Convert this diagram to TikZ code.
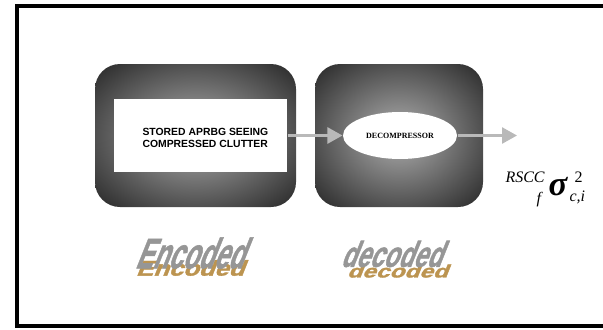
\documentclass[tikz,border=0pt]{standalone}
\usepackage{fontspec}
\setmainfont{Liberation Sans}
\newfontfamily\timesfont{Liberation Serif}
\newfontfamily\artfont[FakeBold=1.6]{Liberation Sans Bold}
\usetikzlibrary{shapes}
\usetikzlibrary{positioning}
\usetikzlibrary{arrows.meta}
\definecolor{panelout}{RGB}{52,52,52}
\definecolor{panelin}{RGB}{145,145,145}
\definecolor{arrowgray}{RGB}{185,185,185}
\definecolor{wordgray}{RGB}{150,150,150}
\definecolor{wordgold}{RGB}{188,148,80}
\pgfdeclareradialshading{panelglow}{\pgfpoint{0bp}{0bp}}{color(0bp)=(panelin); color(8bp)=(panelin); color(32bp)=(panelout); color(50bp)=(panelout)}
\tikzset{
    panel/.style = {rectangle, rounded corners=18.75pt, inner sep=0pt, outer sep=0pt, shading=panelglow, minimum height=107.25pt},
    store/.style = {rectangle, fill=white, inner sep=0pt, minimum width=129.75pt, minimum height=54.75pt},
    decomp/.style = {ellipse, fill=white, inner sep=0pt, minimum width=85.5pt, minimum height=35.25pt, font=\timesfont\bfseries\fontsize{6}{7}\selectfont},
    edgeg/.style = {-{Triangle[length=11.25pt,width=12pt]}, line width=2pt, arrowgray},
    wordart/.style = {inner sep=0pt, text=wordgray, transform shape, xslant=0.4},
    wordshadow/.style = {inner sep=0pt, text=wordgold, transform shape, xslant=0.4, yscale=0.5},
    sym/.style = {inner sep=0pt, anchor=base west, font=\timesfont\itshape\fontsize{12}{12}\selectfont}
}

\begin{document}
\begin{tikzpicture}[x=0.75pt, y=-0.75pt, thick]
  \useasboundingbox (0,0) rectangle (603,329);
  \draw[line width=3pt] (603,6) -- (17,6) -- (17,325.5) -- (603,325.5);
  % the two panels
  \node[panel, minimum width=150.75pt] (encpanel) at (195.5,135.5) {};
  \node[panel, minimum width=126pt] (decpanel) at (399,135.5) {};
  \node[store] (store) at (200.5,135.5) {};
  \node[anchor=west, inner sep=0pt, align=left, font=\bfseries\fontsize{7.8}{9}\selectfont] (storetxt) at (142,138) {STORED APRBG SEEING\\COMPRESSED CLUTTER};
  \node[decomp] (dcmp) at (400,135.5) {DECOMPRESSOR};
  \coordinate (outend) at (517,135.5);
  \draw[edgeg] (store) -- (dcmp);
  \draw[edgeg] (dcmp) -- (outend);
  % output
  \node[sym] (rscc) at (505,182) {RSCC};
  \node[sym] (f) at (536,203) {f};
  \node[sym, font=\timesfont\bfseries\itshape\fontsize{26}{26}\selectfont] (sigma) at (548,195) {σ};
  \node[sym, font=\timesfont\fontsize{12}{12}\selectfont] (sq) at (574,182) {2};
  \node[sym] (ci) at (569,201) {c,i};
  % word art
  \node[wordshadow, xscale=0.6, font=\artfont\fontsize{32}{32}\selectfont] (encshadow) at (193,268) {Encoded};
  \node[wordart, xscale=0.6, font=\artfont\fontsize{32}{32}\selectfont] (enctext) at (195,253) {Encoded};
  \node[wordshadow, xscale=0.68, font=\artfont\fontsize{27}{27}\selectfont] (decshadow) at (400,271) {decoded};
  \node[wordart, xscale=0.68, font=\artfont\fontsize{27}{27}\selectfont] (dectext) at (396,254) {decoded};
\end{tikzpicture}
\end{document}
